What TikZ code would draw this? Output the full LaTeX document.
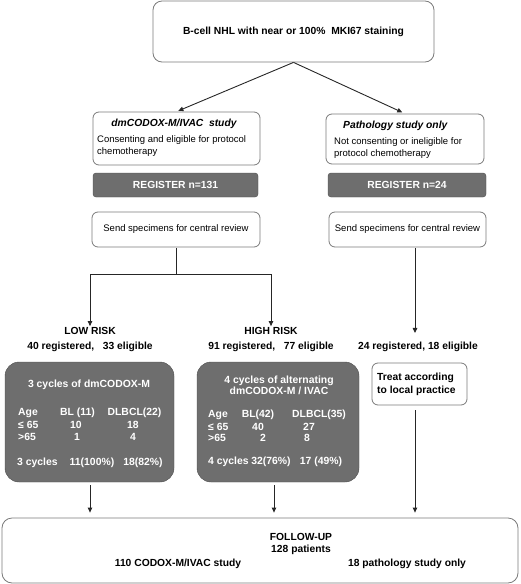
\documentclass[tikz,border=0pt]{standalone}
\usepackage{fontspec}
\setmainfont{Liberation Sans}
\usetikzlibrary{arrows.meta}

\definecolor{boxgray}{HTML}{6E6E6E}
\definecolor{edgegray}{HTML}{7A7A7A}
\newcommand{\bfnt}{\fontsize{10.3}{15}\selectfont\bfseries}
\newcommand{\bfnttight}{\fontsize{10.3}{12.5}\selectfont\bfseries}
\newcommand{\rgnt}{\fontsize{9.5}{12}\selectfont}
\newcommand{\tbnt}{\fontsize{10.4}{11.5}\selectfont\bfseries}

\begin{document}
\begin{tikzpicture}[x=1pt,y=-1pt,
  plainbox/.style={draw=edgegray,line width=0.8pt,rounded corners=6pt,inner sep=0pt},
  regbox/.style={draw=black!70,fill=boxgray,rounded corners=3pt,minimum height=24,inner sep=0pt,text=white,font=\bfnt},
  darkbox/.style={draw=black!70,fill=boxgray,rounded corners=14pt,inner sep=0pt},
  darktext/.style={text=white,font=\tbnt,inner sep=0pt},
  arr/.style={draw=black!85,line width=0.9pt,-{Triangle[length=5pt,width=4.5pt]}},
  link/.style={draw=black!85,line width=0.9pt}]
\useasboundingbox (0,0) rectangle (520,584);

% top box
\node[plainbox,rounded corners=9pt,minimum width=281,minimum height=61,font=\bfnt] (mki) at (293.5,31.5) {B-cell NHL with near or 100\%\ \ MKI67 staining};

% study arms
\node[plainbox,minimum width=167,minimum height=53] (study) at (176.5,138.5) {};
\node[font=\bfnt\itshape,inner sep=0pt] (studyhead) at (174,124) {dmCODOX-M/IVAC\ \ study};
\node[font=\rgnt,anchor=west,align=left,inner sep=0pt] (studytext) at (97,146) {Consenting and eligible for protocol\\chemotherapy};

\node[plainbox,minimum width=158,minimum height=50] (path) at (405,139) {};
\node[font=\bfnt\itshape,inner sep=0pt,anchor=west] (pathhead) at (343,126) {Pathology study only};
\node[font=\rgnt,anchor=west,align=left,inner sep=0pt] (pathtext) at (334,148.5) {Not consenting or ineligible for\\protocol chemotherapy};

\draw[arr,shorten >=2pt] (mki.south) -- (study.north);
\draw[arr,shorten >=3pt] (mki.south) -- (path.north);

% register
\node[regbox,minimum width=165] (reg1) at (175.5,185) {REGISTER n=131};
\node[regbox,minimum width=158] (reg2) at (407,185) {REGISTER n=24};

% central review
\node[plainbox,minimum width=168,minimum height=35,font=\rgnt] (send1) at (176,229.5) {Send specimens for central review};
\node[plainbox,minimum width=157,minimum height=35,font=\rgnt] (send2) at (407.5,229.5) {Send specimens for central review};

% risk groups
\coordinate (fork) at (176,274);
\coordinate (pathline) at (415,0);
\node[font=\bfnt,align=center,inner sep=0pt] (lowhead) at (90,339.5) {LOW RISK\\40 registered,\ \ \ 33 eligible};
\node[font=\bfnt,align=center,inner sep=0pt] (highhead) at (271,339.5) {HIGH RISK\\91 registered,\ \ \ 77 eligible};
\node[font=\bfnt,inner sep=0pt] (pathcount) at (418,347) {24 registered, 18 eligible};

\draw[link,shorten <=1pt] (send1.south) -- (fork);
\draw[arr,shorten >=1pt] (fork) -| (lowhead.north);
\draw[arr,shorten >=1pt] (fork) -| (highhead.north);
\draw[arr,shorten <=1pt,shorten >=9pt] (send2.south -| pathline) -- (pathcount.north -| pathline);

% low risk box
\node[darkbox,minimum width=169,minimum height=120] (low) at (89.5,422) {};
\node[darktext] (lowtitle) at (89,385) {3 cycles of dmCODOX-M};
\node[darktext,anchor=west] at (18,413) {Age};
\node[darktext,anchor=west] at (18,425) {≤ 65};
\node[darktext,anchor=west] at (18,437) {>65};
\node[darktext] at (77.5,413) {BL (11)};
\node[darktext] at (76,425) {10};
\node[darktext] at (77,437) {1};
\node[darktext] at (134.5,413) {DLBCL(22)};
\node[darktext] at (133,425) {18};
\node[darktext] at (133,437) {4};
\node[darktext,anchor=west] at (17,463) {3 cycles};
\node[darktext] at (92,463) {11(100\%)};
\node[darktext] at (143,463) {18(82\%)};

% high risk box
\node[darkbox,minimum width=162,minimum height=120] (high) at (278,422) {};
\node[darktext,align=center] (hightitle) at (279,385.5) {4 cycles of alternating\\dmCODOX-M / IVAC};
\node[darktext,anchor=west] at (208,415) {Age};
\node[darktext,anchor=west] at (208,427) {≤ 65};
\node[darktext,anchor=west] at (208,438) {>65};
\node[darktext] at (258,415) {BL(42)};
\node[darktext] at (258,427) {40};
\node[darktext] at (263,438) {2};
\node[darktext] at (319,415) {DLBCL(35)};
\node[darktext] at (309,427) {27};
\node[darktext] at (307,438) {8};
\node[darktext,anchor=west] at (208,462) {4 cycles};
\node[darktext] at (271,462) {32(76\%)};
\node[darktext] at (321,462) {17 (49\%)};

% local practice
\node[plainbox,minimum width=95,minimum height=42] (treat) at (419.5,384) {};
\node[font=\bfnttight,anchor=west,align=left,inner sep=0pt] (treattext) at (377,384.5) {Treat according\\to local practice};

% follow-up
\node[plainbox,rounded corners=10pt,minimum width=516,minimum height=65] (follow) at (260,550.5) {};
\node[font=\bfnttight,align=center,inner sep=0pt] (followhead) at (301,544) {FOLLOW-UP\\128 patients};
\node[font=\bfnt,inner sep=0pt] (followstudy) at (178,564) {110 CODOX-M/IVAC study};
\node[font=\bfnt,inner sep=0pt] (followpath) at (407,564) {18 pathology study only};

\draw[arr,shorten <=3pt,shorten >=5pt] ([xshift=0.5pt]low.south) -- ([xshift=0.5pt]low.south |- follow.north);
\draw[arr,shorten <=3pt,shorten >=5pt] ([xshift=-4pt]high.south) -- ([xshift=-4pt]high.south |- follow.north);
\draw[arr,shorten <=5pt,shorten >=5pt] (treat.south -| pathline) -- (follow.north -| pathline);
\end{tikzpicture}
\end{document}
